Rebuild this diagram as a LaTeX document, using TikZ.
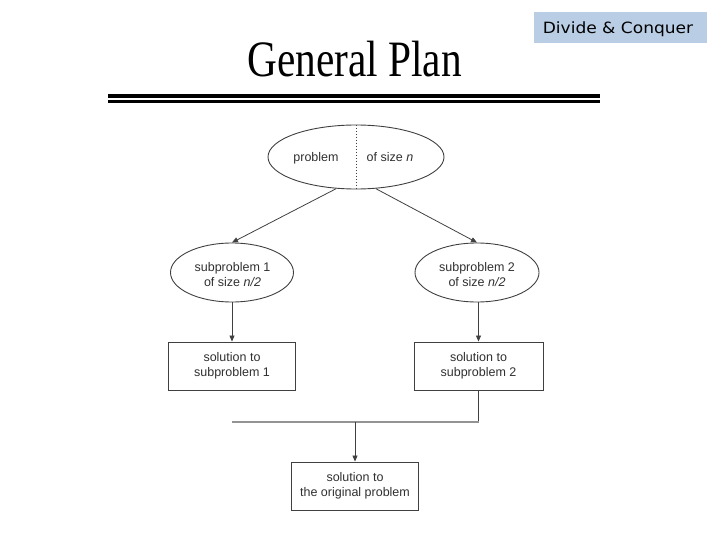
\documentclass[tikz,border=0pt]{standalone}
\usepackage{fontspec}
\setmainfont{Liberation Serif}
\setsansfont{Liberation Sans}
\newfontfamily\dejavu{DejaVu Sans}
\usetikzlibrary{shapes.geometric,arrows.meta}
\definecolor{linec}{HTML}{404040}
\definecolor{textc}{HTML}{303030}
\definecolor{tagblue}{HTML}{B9CDE5}
\tikzset{
  lbl/.style={font=\sffamily\fontsize{12.5}{15}\selectfont, text=textc, align=center, inner sep=0pt},
  oval/.style={ellipse, draw=linec, line width=0.9pt, inner sep=0pt},
  boxnode/.style={rectangle, draw=linec, line width=0.9pt, inner sep=0pt, lbl},
  arr/.style={draw=linec, line width=0.8pt, -{Triangle[length=6pt,width=5pt]}},
  joinline/.style={draw=gray!85, line width=2pt},
  rule/.style={draw=black, line width=3.3pt}
}
\begin{document}
\begin{tikzpicture}[x=1pt,y=-1pt]
\useasboundingbox (0,0) rectangle (720,540);
% header
\node[anchor=base, font=\fontsize{51}{60}\selectfont, xscale=0.81, inner sep=0pt] (title) at (354.5,77) {General Plan};
\node[fill=tagblue, minimum width=173pt, minimum height=31pt, inner sep=0pt] (tag) at (620.5,27.5) {};
\node[anchor=base, font=\dejavu\fontsize{15.5}{18}\selectfont, xscale=1.1, inner sep=0pt] (tagtext) at (618,34) {Divide \& Conquer};
\coordinate (r1a) at (108,96); \coordinate (r1b) at (600,96);
\coordinate (r2a) at (108,101.7); \coordinate (r2b) at (600,101.7);
\draw[rule] (r1a) -- (r1b);
\draw[rule] (r2a) -- (r2b);
% top problem
\node[oval, minimum width=176pt, minimum height=64pt] (top) at (356,157) {};
\draw[draw=linec, line width=0.7pt, dash pattern=on 1.5pt off 1.5pt] (top.north) -- (top.south);
\node[lbl, anchor=base] (tl) at (316,161.5) {problem};
\node[lbl, anchor=base] (tr) at (390,161.5) {of size \textit{n}};
% subproblems
\node[oval, minimum width=123pt, minimum height=59pt] (sub1) at (232,272.5) {};
\node[lbl, anchor=base] (sub1t) at (232.5,286) {subproblem 1\\of size \textit{n/2}};
\node[oval, minimum width=124pt, minimum height=59pt] (sub2) at (477,272.5) {};
\node[lbl, anchor=base] (sub2t) at (477,286) {subproblem 2\\of size \textit{n/2}};
\draw[arr] (top.238) -- (sub1.north);
\draw[arr] (top.302) -- (sub2.north);
% solutions
\node[boxnode, minimum width=127pt, minimum height=48pt] (sol1) at (232,366) {solution to\\subproblem 1};
\node[boxnode, minimum width=129pt, minimum height=48pt] (sol2) at (478.5,366) {solution to\\subproblem 2};
\draw[arr] (sub1.south) -- (sol1.north);
\draw[arr] (sub2.south -| sol2.north) -- (sol2.north);
% combine
\coordinate (jr) at (478.5,422);
\coordinate (jl) at (232,422);
\coordinate (jm) at (355,422);
\draw[draw=linec, line width=0.9pt] (sol2.south) -- (jr);
\draw[joinline] (jr) -- (jl);
\node[boxnode, minimum width=127pt, minimum height=48pt] (fin) at (355,486) {solution to\\the original problem};
\draw[arr] (jm) -- (fin.north);
\end{tikzpicture}
\end{document}
